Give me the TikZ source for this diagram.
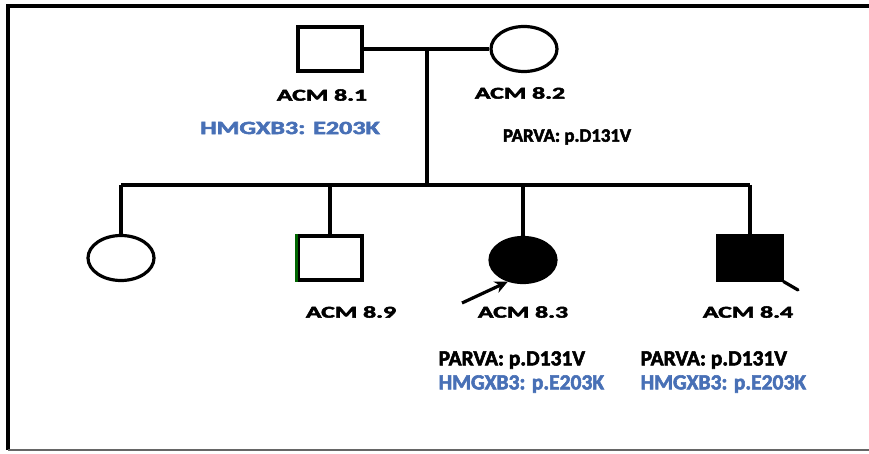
\documentclass[tikz,border=0pt]{standalone}
\usepackage{xcolor}
\usepackage{graphicx}
\usepackage{fontspec}
\setmainfont{Carlito}[BoldFeatures={FakeBold=2.6}]
\usepackage{tikz}
\usetikzlibrary{arrows.meta,shapes.geometric}
\definecolor{mutblue}{RGB}{72,112,182}
\newcommand{\acmlbl}[1]{\scalebox{1.55}[1]{ACM #1}}

\begin{document}
\begin{tikzpicture}[x=1pt,y=-1pt,line width=3.2pt,
  male/.style={rectangle,draw,minimum width=64pt,minimum height=44pt,inner sep=0pt},
  female/.style={ellipse,draw,minimum width=66pt,minimum height=45pt,inner sep=0pt},
  lbl/.style={inner sep=0pt,font=\fontsize{16.6}{18}\selectfont\bfseries},
  note/.style={inner sep=0pt,anchor=west,font=\fontsize{21.5}{23}\selectfont\bfseries}]
  \useasboundingbox (0,0) rectangle (869,454);
  % frame
  \draw[line width=4pt] (869,6) -- (8,6) -- (8,450);
  \draw[line width=2pt,black!60] (8,450) -- (869,450);
  % parents
  \node[male] (f81) at (330,49) {};
  \node[female] (m82) at (524,49) {};
  \coordinate (mid) at (427,49);
  \coordinate (sib) at (427,185);
  \draw (f81) -- (m82);
  \draw (mid) -- (sib);
  % children
  \node[female] (d1) at (121,258) {};
  \node[male] (s89) at (330,258) {};
  \node[female,fill=black] (p83) at (523,260) {};
  \node[male,fill=black] (s84) at (750,258) {};
  \draw[green!40!black] (s89.north west) -- (s89.south west);
  \draw (d1 |- sib) -- (s84 |- sib);
  \draw (d1 |- sib) -- (d1.north);
  \draw (s89 |- sib) -- (s89.north);
  \draw (p83 |- sib) -- (p83.north);
  \draw (s84 |- sib) -- (s84.north);
  \coordinate (dc) at (798,290);
  \draw[line cap=round] (s84.south east) -- (dc);
  % proband
  \coordinate (pb) at (462,303);
  \draw[-{Stealth[length=13pt,width=12pt]}] (pb) -- (p83.235);
  % labels
  \node[lbl] (l81) at (322,95) {\acmlbl{8.1}};
  \node[lbl] (l82) at (520,93) {\acmlbl{8.2}};
  \node[lbl] (l89) at (351,312) {\acmlbl{8.9}};
  \node[lbl] (l83) at (523,312) {\acmlbl{8.3}};
  \node[lbl] (l84) at (748,312) {\acmlbl{8.4}};
  \node[inner sep=0pt,text=mutblue,font=\fontsize{18.6}{20}\selectfont\bfseries] (g81) at (290,128) {\scalebox{1.4}[1]{HMGXB3: E203K}};
  \node[inner sep=0pt,font=\fontsize{18.8}{20}\selectfont\bfseries] (v82) at (567,137) {PARVA: p.D131V};
  \node[note] (v83) at (437,360) {PARVA: p.D131V};
  \node[note,text=mutblue] (g83) at (437,384) {HMGXB3: p.E203K};
  \node[note] (v84) at (639,360) {PARVA: p.D131V};
  \node[note,text=mutblue] (g84) at (639,384) {HMGXB3: p.E203K};
\end{tikzpicture}
\end{document}
